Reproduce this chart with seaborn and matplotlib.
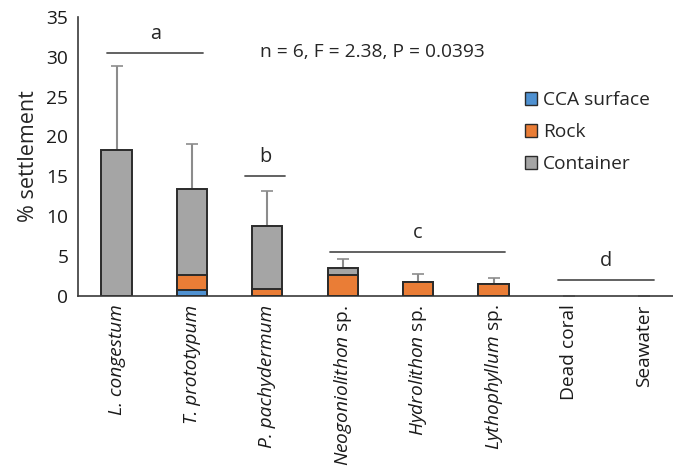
import numpy as np
import pandas as pd
import matplotlib
matplotlib.use('Agg')
import matplotlib.pyplot as plt
import seaborn as sns
from matplotlib.patches import Patch

# Data
categories = ['L. congestum', 'T. prototypum', 'P. pachydermum', 'Neogoniolithon sp.',
              'Hydrolithon sp.', 'Lythophyllum sp.', 'Dead coral', 'Seawater']
tick_labels = ['L. congestum', 'T. prototypum', 'P. pachydermum',
               r'$\it{Neogoniolithon}$ sp.', r'$\it{Hydrolithon}$ sp.', r'$\it{Lythophyllum}$ sp.',
               'Dead coral', 'Seawater']
italic_full = [True, True, True, False, False, False, False, False]
cca = [0, 0.8, 0, 0, 0, 0, 0, 0]
rock = [0, 1.8, 0.9, 2.6, 1.76, 1.5, 0, 0]
container = [18.25, 10.8, 7.9, 0.88, 0, 0, 0, 0]
se = [10.55, 5.6, 4.35, 1.2, 1.0, 0.76, 0, 0]

sns.set_style('white')
plt.rcParams['font.family'] = ['Open Sans', 'DejaVu Sans']
plt.rcParams['mathtext.fontset'] = 'custom'
plt.rcParams['mathtext.rm'] = 'Open Sans'
plt.rcParams['mathtext.it'] = 'Open Sans:italic'

df = pd.DataFrame({'cat': categories, 'cca': cca, 'rock': rock, 'container': container, 'se': se})
df['rock_top'] = df['cca'] + df['rock']
df['total'] = df['rock_top'] + df['container']

c_blue = '#4F91D1'
c_orange = '#EA7D36'
c_gray = '#A5A5A5'
edge = '#2b2b2b'
fs = 13.8

fig, ax = plt.subplots(figsize=(6.73, 4.67), dpi=100)
fig.subplots_adjust(left=0.116, right=1.0, bottom=0.366, top=0.964)

# error bars (upper only), drawn behind bars
ax.errorbar(np.arange(len(df)), df['total'], yerr=[np.zeros(len(df)), df['se'].where(df['se'] > 0, np.nan)],
            fmt='none', ecolor='#8c8c8c', elinewidth=1.5, capsize=4, capthick=1.2, zorder=1)

sns.barplot(data=df, x='cat', y='total', color=c_gray, width=0.4, edgecolor=edge, linewidth=1.4,
            saturation=1, ax=ax, zorder=2)
sns.barplot(data=df, x='cat', y='rock_top', color=c_orange, width=0.4, edgecolor=edge, linewidth=1.4,
            saturation=1, ax=ax, zorder=3)
sns.barplot(data=df, x='cat', y='cca', color=c_blue, width=0.4, edgecolor=edge, linewidth=1.4,
            saturation=1, ax=ax, zorder=4)
# hide zero-height bar outlines
for p in ax.patches:
    if p.get_height() == 0:
        p.set_visible(False)

ax.set_ylim(0, 35)
ax.set_xlim(-0.51, 7.38)
ax.set_yticks(range(0, 36, 5))
ax.set_xticks(range(len(categories)))
ax.set_xticklabels(tick_labels, rotation=90)
for lbl, it in zip(ax.get_xticklabels(), italic_full):
    if it:
        lbl.set_fontstyle('italic')
ax.tick_params(axis='both', length=0, labelsize=fs, colors='#1a1a1a')
ax.tick_params(axis='y', pad=7)
ax.tick_params(axis='x', pad=6)
ax.set_xlabel('')
ax.set_ylabel('% settlement', fontsize=15.5, labelpad=5)
sns.despine(ax=ax)
for s in ['left', 'bottom']:
    ax.spines[s].set_color('#3a3a3a')
    ax.spines[s].set_linewidth(1.2)

# significance groups
groups = [('a', -0.12, 1.15, 30.5), ('b', 1.7, 2.24, 15.1), ('c', 2.83, 5.15, 5.5), ('d', 5.85, 7.13, 2.0)]
for lab, x0, x1, yv in groups:
    ax.plot([x0, x1], [yv, yv], color='#555555', lw=1.3)
    ax.text((x0 + x1) / 2, yv + 1.1, lab, ha='center', va='bottom', fontsize=fs + 0.5)

ax.text(3.39, 30.6, 'n = 6, F = 2.38, P = 0.0393', ha='center', va='center', fontsize=fs)

handles = [Patch(facecolor=c_blue, edgecolor=edge, label='CCA surface'),
           Patch(facecolor=c_orange, edgecolor=edge, label='Rock'),
           Patch(facecolor=c_gray, edgecolor=edge, label='Container')]
ax.legend(handles=handles, loc='upper left', bbox_to_anchor=(0.722, 0.795), frameon=False,
          fontsize=fs, handlelength=0.65, handleheight=0.65, handletextpad=0.3, labelspacing=0.72)

fig.savefig('out.png', dpi=100)
